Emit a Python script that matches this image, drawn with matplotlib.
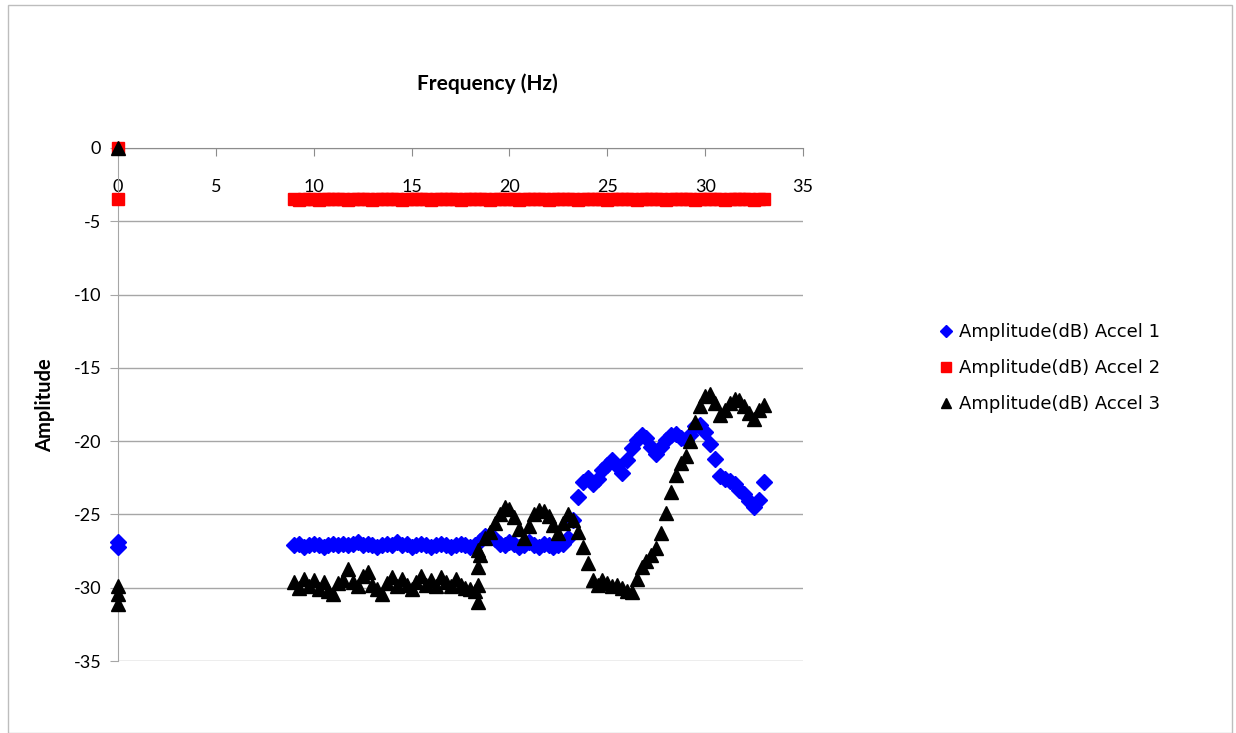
import numpy as np
import matplotlib.pyplot as plt
from matplotlib.patches import Rectangle

plt.rcParams['font.family'] = ['Lato', 'DejaVu Sans']
plt.rcParams['axes.unicode_minus'] = False

# frequency grid of the measured band (Hz)
freq = np.arange(9.0, 33.01, 0.25)

accel1 = [-27.1, -27.0, -27.2, -27.1, -27.0, -27.1, -27.2, -27.1, -27.0, -27.1,
          -27.0, -27.1, -27.0, -26.9, -27.1, -27.0, -27.1, -27.2, -27.1, -27.0,
          -27.1, -26.9, -27.1, -27.0, -27.2, -27.1, -27.0, -27.1, -27.2, -27.1,
          -27.0, -27.1, -27.2, -27.1, -27.0, -27.1, -27.2, -27.1,
          -26.8, -26.5, -26.4, -26.7, -27.0, -27.1, -26.9, -27.0, -27.2, -27.1,
          -26.9, -27.1, -27.2, -27.0, -27.1, -27.2, -27.1, -27.0,
          -26.6, -25.4, -23.8, -22.8, -22.5, -22.9, -22.6, -22.0,
          -21.6, -21.3, -21.7, -22.2, -21.3, -20.5, -19.9, -19.6,
          -19.8, -20.4, -20.9, -20.4, -19.9, -19.6, -19.5, -19.8,
          -19.9, -19.6, -19.0, -18.9, -19.4, -20.2, -21.2, -22.4,
          -22.6, -22.7, -22.9, -23.3, -23.6, -24.1, -24.5, -24.0, -22.8]

accel2 = [-3.5, -3.55, -3.5, -3.45, -3.5, -3.55, -3.5, -3.5, -3.45, -3.5,
          -3.5, -3.55, -3.5, -3.5, -3.45, -3.5, -3.55, -3.5, -3.5, -3.5,
          -3.45, -3.5, -3.55, -3.5, -3.5, -3.5, -3.45, -3.5, -3.55, -3.5,
          -3.5, -3.5, -3.45, -3.5, -3.55, -3.5, -3.5, -3.5, -3.45, -3.5,
          -3.55, -3.5, -3.5, -3.5, -3.45, -3.5, -3.55, -3.5, -3.5, -3.5,
          -3.45, -3.5, -3.55, -3.5, -3.5, -3.5, -3.45, -3.5, -3.55, -3.5,
          -3.5, -3.5, -3.45, -3.5, -3.55, -3.5, -3.5, -3.5, -3.45, -3.5,
          -3.55, -3.5, -3.5, -3.5, -3.45, -3.5, -3.55, -3.5, -3.5, -3.5,
          -3.45, -3.5, -3.55, -3.5, -3.5, -3.5, -3.45, -3.5, -3.55, -3.5,
          -3.5, -3.5, -3.45, -3.5, -3.55, -3.5, -3.5]

accel3 = [-29.6, -30.0, -29.4, -29.9, -29.5, -30.1, -29.6, -30.2, -30.4, -29.7,
          -29.5, -28.7, -29.6, -29.9, -29.2, -28.9, -29.8, -30.1, -30.4, -29.7,
          -29.3, -29.9, -29.4, -29.8, -30.1, -29.6, -29.2, -29.8, -29.5, -29.9,
          -29.3, -29.6, -29.9, -29.4, -29.8, -30.0, -30.1, -30.2,
          -27.8, -26.6, -26.2, -25.6, -25.0, -24.5, -24.6, -25.2, -26.0, -26.6,
          -25.8, -25.0, -24.7, -24.8, -25.1, -25.7, -26.3, -25.6,
          -25.0, -25.4, -26.2, -27.2, -28.3, -29.5, -29.8, -29.5,
          -29.7, -29.9, -29.8, -30.0, -30.2, -30.3, -29.4, -28.6,
          -28.2, -27.8, -27.3, -26.3, -24.9, -23.5, -22.3, -21.5,
          -21.0, -20.0, -18.7, -17.6, -16.9, -16.8, -17.4, -18.2,
          -17.9, -17.4, -17.1, -17.2, -17.6, -18.1, -18.5, -17.9, -17.5]

# isolated readings (0 Hz and the step near 18.4 Hz)
extra_f1, extra_a1 = [0, 0], [-26.9, -27.2]
extra_f2, extra_a2 = [0, 0], [0.0, -3.5]
extra_f3 = [0, 0, 0, 0, 18.4, 18.4, 18.4, 18.4]
extra_a3 = [0.0, -29.9, -30.4, -31.1, -27.4, -28.6, -29.8, -31.0]

fig = plt.figure(figsize=(12.36, 7.33), dpi=100)
ax = fig.add_axes([118 / 1236, 1 - 661 / 733, 685 / 1236, 513 / 733])

fig.patches.append(Rectangle((8 / 1236, 0), 1224 / 1236, 1 - 5 / 733,
                             transform=fig.transFigure, fill=False,
                             edgecolor='#bdbdbd', linewidth=1))

ax.plot(list(freq) + extra_f1, accel1 + extra_a1, 'D', color='#0000ff',
        ms=8.5, mec='#0000ff', label='Amplitude(dB) Accel 1', zorder=3,
        clip_on=False)
ax.plot(list(freq) + extra_f2, accel2 + extra_a2, 's', color='#ff0000',
        ms=9, mec='#ff0000', label='Amplitude(dB) Accel 2', zorder=3,
        clip_on=False)
ax.plot(list(freq) + extra_f3, accel3 + extra_a3, '^', color='black',
        ms=10.5, label='Amplitude(dB) Accel 3', zorder=4, clip_on=False)

ax.set_xlim(0, 35)
ax.set_ylim(-35, 0)
ax.set_xticks(range(0, 36, 5))
ax.set_yticks(range(-35, 1, 5))
ax.yaxis.grid(True, color='#a6a6a6', linewidth=1)
ax.set_axisbelow(True)

for s in ['top', 'right']:
    ax.spines[s].set_visible(False)
ax.spines['bottom'].set_position(('data', 0))
ax.spines['bottom'].set_color('#8c8c8c')
ax.spines['left'].set_position(('data', 0))
ax.spines['left'].set_color('#a6a6a6')
ax.tick_params(axis='x', direction='out', length=6, color='#8c8c8c',
               labelsize=13, pad=16)
ax.tick_params(axis='y', direction='out', length=6, color='#a6a6a6',
               labelsize=13, pad=6)

fig.text(487 / 1236, 1 - 84 / 733, 'Frequency (Hz)', ha='center', va='center',
         fontsize=15, fontweight='bold')
fig.text(45 / 1236, 1 - 405 / 733, 'Amplitude', ha='center', va='center',
         rotation=90, fontsize=14.5, fontweight='bold')

fig.legend(loc='center left', bbox_to_anchor=(932 / 1236, 1 - 368 / 733),
           frameon=False, prop={'family': 'DejaVu Sans', 'size': 13},
           labelspacing=1.0, handlelength=0.7, handletextpad=0.4,
           markerscale=0.75, borderaxespad=0)

fig.savefig('out.png', dpi=100)
